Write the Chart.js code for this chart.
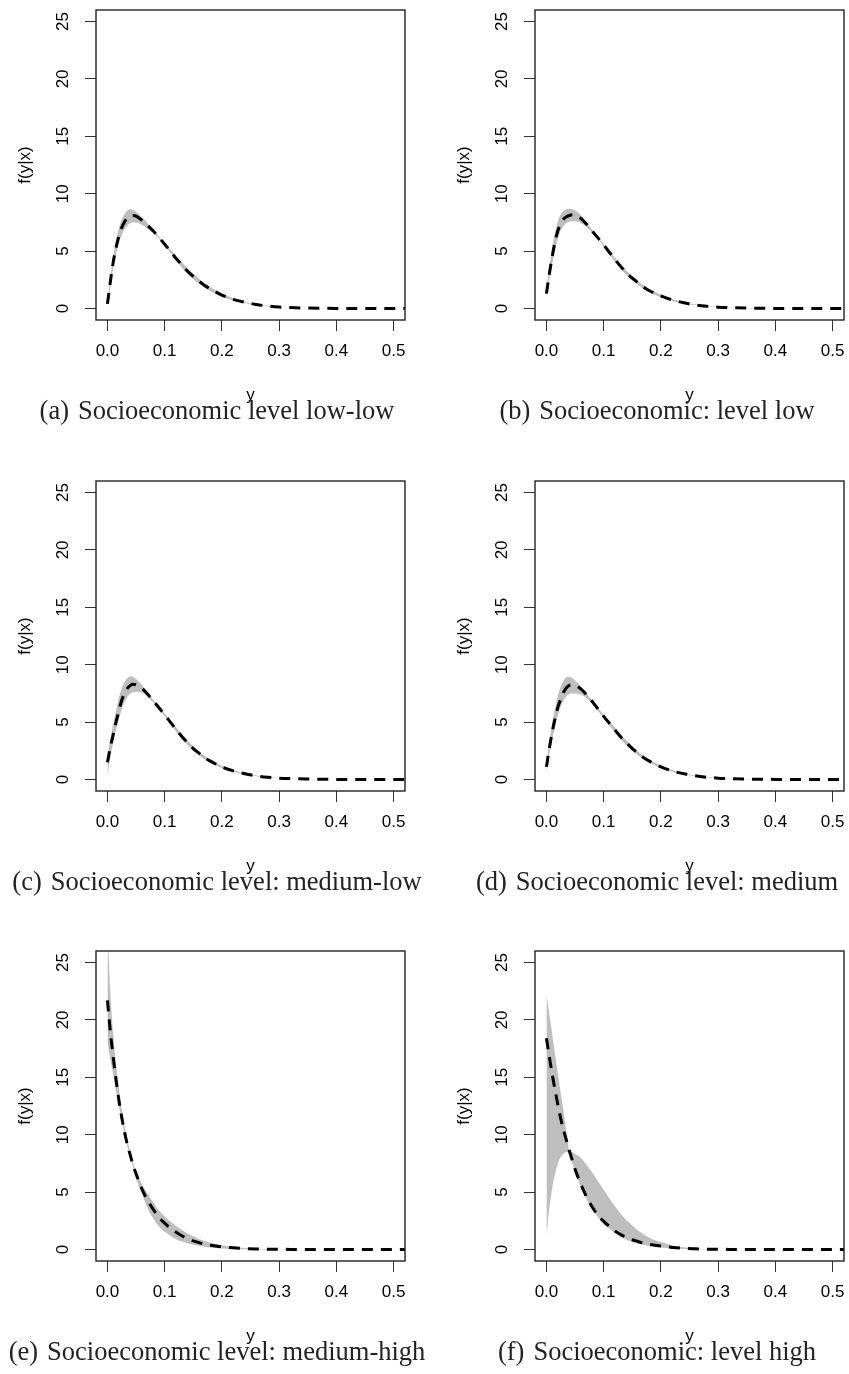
<!DOCTYPE html>
<html>
<head>
<meta charset="utf-8">
<script src="https://cdn.jsdelivr.net/npm/chart.js@4.4.1/dist/chart.umd.min.js"></script>
<style>
  body { margin: 0; background: #fff; }
  #pagina { position: relative; width: 849px; height: 1374px; overflow: hidden; background: #fff; }
  canvas { position: absolute; }
  .cap { position: absolute; width: 440px; text-align: center; font-family: "Liberation Serif", "Times New Roman", serif;
         font-size: 26.5px; line-height: 28px; color: #222; white-space: nowrap; }
  .cap span { margin-right: 9px; }
</style>
</head>
<body>
<div id="pagina">
  <canvas id="ga" width="410" height="410" style="left:0px;top:0px"></canvas>
  <canvas id="gb" width="410" height="410" style="left:439px;top:0px"></canvas>
  <canvas id="gc" width="410" height="410" style="left:0px;top:471px"></canvas>
  <canvas id="gd" width="410" height="410" style="left:439px;top:471px"></canvas>
  <canvas id="ge" width="410" height="410" style="left:0px;top:941px"></canvas>
  <canvas id="gf" width="410" height="410" style="left:439px;top:941px"></canvas>

  <div class="cap" style="left:-3px;top:396px"><span>(a)</span>Socioeconomic level low-low</div>
  <div class="cap" style="left:437px;top:396px"><span>(b)</span>Socioeconomic: level low</div>
  <div class="cap" style="left:-3px;top:867px"><span>(c)</span>Socioeconomic level: medium-low</div>
  <div class="cap" style="left:437px;top:867px"><span>(d)</span>Socioeconomic level: medium</div>
  <div class="cap" style="left:-3px;top:1337px"><span>(e)</span>Socioeconomic level: medium-high</div>
  <div class="cap" style="left:437px;top:1337px"><span>(f)</span>Socioeconomic: level high</div>
</div>
<script>
// Puntos en el eje horizontal (y)
const xs = [0, 0.005, 0.01, 0.015, 0.02, 0.025, 0.03, 0.035, 0.04, 0.045, 0.05, 0.06, 0.07, 0.08, 0.09, 0.1,
            0.11, 0.12, 0.13, 0.14, 0.15, 0.16, 0.17, 0.18, 0.2, 0.22, 0.24, 0.26, 0.28, 0.3, 0.32, 0.35, 0.4, 0.45, 0.5, 0.52];

// Marcas de los ejes
const xTicks = [0, 0.1, 0.2, 0.3, 0.4, 0.5];
const xTickLabels = ["0.0", "0.1", "0.2", "0.3", "0.4", "0.5"];
const yTicks = [0, 5, 10, 15, 20, 25];
const yTickLabels = ["0", "5", "10", "15", "20", "25"];

// (a) low-low
const meanA = [0.4, 2.3, 4.0, 5.3, 6.3, 7.05, 7.55, 7.9, 8.05, 8.1, 8.05, 7.7, 7.25, 6.75, 6.2, 5.6, 5.0, 4.35, 3.8, 3.25, 2.8, 2.4, 2.0, 1.7, 1.17, 0.8, 0.55, 0.35, 0.22, 0.13, 0.08, 0.04, 0.01, 0, 0, 0];
const upA   = [0.7, 2.7, 4.5, 5.9, 7.0, 7.75, 8.25, 8.55, 8.65, 8.6, 8.45, 8.0, 7.45, 6.85, 6.25, 5.7, 5.15, 4.6, 4.05, 3.5, 3.05, 2.6, 2.2, 1.85, 1.3, 0.9, 0.6, 0.38, 0.24, 0.14, 0.08, 0.04, 0.01, 0, 0, 0];
const loA   = [0.1, 1.9, 3.5, 4.7, 5.7, 6.4, 6.9, 7.25, 7.45, 7.5, 7.5, 7.3, 6.95, 6.55, 6.1, 5.5, 4.85, 4.15, 3.55, 3.0, 2.55, 2.15, 1.8, 1.5, 1.02, 0.7, 0.48, 0.3, 0.18, 0.11, 0.07, 0.03, 0.01, 0, 0, 0];

// (b) low
const meanB = [1.3, 3.0, 4.5, 5.8, 6.8, 7.4, 7.8, 8.0, 8.1, 8.17, 8.15, 7.85, 7.35, 6.75, 6.15, 5.55, 4.9, 4.25, 3.65, 3.1, 2.65, 2.25, 1.85, 1.55, 1.1, 0.75, 0.5, 0.32, 0.2, 0.12, 0.08, 0.04, 0.01, 0, 0, 0];
const upB   = [1.6, 3.6, 5.3, 6.6, 7.6, 8.2, 8.5, 8.65, 8.7, 8.65, 8.55, 8.15, 7.5, 6.85, 6.2, 5.6, 5.0, 4.4, 3.85, 3.3, 2.85, 2.4, 2.0, 1.7, 1.2, 0.82, 0.55, 0.35, 0.22, 0.13, 0.08, 0.04, 0.01, 0, 0, 0];
const loB   = [0.9, 2.5, 3.9, 5.1, 6.1, 6.8, 7.2, 7.45, 7.55, 7.6, 7.6, 7.45, 7.1, 6.6, 6.05, 5.4, 4.7, 4.05, 3.45, 2.9, 2.45, 2.05, 1.7, 1.4, 0.98, 0.66, 0.44, 0.28, 0.17, 0.1, 0.06, 0.03, 0.01, 0, 0, 0];

// (c) medium-low
const meanC = [1.5, 2.8, 3.9, 5.0, 6.0, 6.9, 7.5, 7.95, 8.2, 8.3, 8.25, 7.95, 7.45, 6.85, 6.25, 5.65, 5.0, 4.35, 3.75, 3.2, 2.7, 2.3, 1.9, 1.6, 1.1, 0.75, 0.5, 0.32, 0.2, 0.12, 0.08, 0.04, 0.01, 0, 0, 0];
const upC   = [2.0, 3.5, 4.8, 6.0, 7.1, 7.95, 8.5, 8.85, 9.0, 8.95, 8.75, 8.25, 7.6, 6.95, 6.3, 5.75, 5.15, 4.55, 3.95, 3.4, 2.9, 2.45, 2.05, 1.72, 1.2, 0.82, 0.55, 0.35, 0.22, 0.13, 0.08, 0.04, 0.01, 0, 0, 0];
const loC   = [0.3, 1.9, 3.2, 4.3, 5.3, 6.1, 6.75, 7.2, 7.5, 7.6, 7.65, 7.55, 7.2, 6.7, 6.15, 5.5, 4.85, 4.15, 3.55, 3.0, 2.5, 2.1, 1.75, 1.45, 1.0, 0.68, 0.45, 0.28, 0.17, 0.1, 0.06, 0.03, 0.01, 0, 0, 0];

// (d) medium
const meanD = [1.1, 2.7, 4.1, 5.3, 6.3, 7.0, 7.6, 8.0, 8.2, 8.25, 8.2, 7.9, 7.4, 6.8, 6.15, 5.5, 4.9, 4.3, 3.7, 3.2, 2.7, 2.3, 1.9, 1.6, 1.1, 0.75, 0.5, 0.32, 0.2, 0.12, 0.08, 0.04, 0.01, 0, 0, 0];
const upD   = [1.5, 3.3, 4.9, 6.2, 7.3, 8.1, 8.6, 8.9, 8.95, 8.85, 8.65, 8.15, 7.5, 6.9, 6.25, 5.65, 5.05, 4.5, 3.9, 3.4, 2.9, 2.45, 2.05, 1.72, 1.2, 0.82, 0.55, 0.35, 0.22, 0.13, 0.08, 0.04, 0.01, 0, 0, 0];
const loD   = [0.5, 2.2, 3.5, 4.6, 5.6, 6.35, 6.9, 7.25, 7.45, 7.5, 7.5, 7.4, 7.1, 6.6, 6.0, 5.35, 4.7, 4.1, 3.5, 2.95, 2.5, 2.1, 1.75, 1.45, 1.0, 0.68, 0.45, 0.28, 0.17, 0.1, 0.06, 0.03, 0.01, 0, 0, 0];

// (e) medium-high
const meanE = [21.7, 19.0, 16.8, 14.8, 13.0, 11.5, 10.2, 9.1, 8.2, 7.3, 6.6, 5.3, 4.3, 3.5, 2.8, 2.3, 1.85, 1.5, 1.2, 0.95, 0.75, 0.6, 0.48, 0.38, 0.24, 0.15, 0.09, 0.05, 0.03, 0.02, 0.01, 0, 0, 0, 0, 0];
const upE   = [28.0, 22.5, 18.8, 16.2, 14.0, 12.2, 10.7, 9.5, 8.5, 7.5, 6.85, 5.7, 4.9, 4.1, 3.4, 2.9, 2.45, 2.05, 1.7, 1.4, 1.15, 0.92, 0.75, 0.6, 0.38, 0.22, 0.13, 0.07, 0.04, 0.02, 0.01, 0, 0, 0, 0, 0];
const loE   = [18.0, 16.6, 15.2, 13.8, 12.5, 11.2, 10.0, 8.9, 7.9, 7.15, 6.2, 4.9, 3.6, 2.7, 2.0, 1.55, 1.2, 0.9, 0.7, 0.55, 0.42, 0.32, 0.25, 0.18, 0.09, 0.05, 0.03, 0.01, 0, 0, 0, 0, 0, 0, 0, 0];

// (f) high
const meanF = [18.4, 16.8, 15.3, 13.9, 12.6, 11.4, 10.4, 9.5, 8.6, 7.8, 7.0, 5.7, 4.6, 3.7, 3.0, 2.45, 2.0, 1.6, 1.3, 1.05, 0.85, 0.7, 0.55, 0.45, 0.3, 0.18, 0.1, 0.06, 0.03, 0.02, 0.01, 0, 0, 0, 0, 0];
const upF   = [22.3, 20.5, 18.8, 17.0, 15.3, 13.6, 12.0, 10.2, 8.65, 8.5, 8.35, 8.0, 7.4, 6.7, 5.95, 5.2, 4.45, 3.75, 3.1, 2.55, 2.1, 1.65, 1.3, 1.0, 0.65, 0.38, 0.2, 0.08, 0.03, 0.01, 0, 0, 0, 0, 0, 0];
const loF   = [1.2, 3.6, 5.3, 6.6, 7.5, 8.05, 8.35, 8.5, 8.4, 7.6, 6.8, 5.5, 4.4, 3.5, 2.8, 2.25, 1.8, 1.4, 1.1, 0.85, 0.65, 0.5, 0.4, 0.3, 0.18, 0.1, 0.05, 0.03, 0.01, 0, 0, 0, 0, 0, 0, 0];

const paneles = [
  { id: "ga", mean: meanA, up: upA, lo: loA },
  { id: "gb", mean: meanB, up: upB, lo: loB },
  { id: "gc", mean: meanC, up: upC, lo: loC },
  { id: "gd", mean: meanD, up: upD, lo: loD },
  { id: "ge", mean: meanE, up: upE, lo: loE },
  { id: "gf", mean: meanF, up: upF, lo: loF },
];

const fuente = { family: "'Liberation Sans', Arial, Helvetica, sans-serif", size: 17 };

// caja alrededor del area de la grafica, como box() en R
const cajaR = {
  id: "cajaR",
  afterDatasetsDraw(chart) {
    const { ctx, chartArea: a } = chart;
    ctx.save();
    ctx.strokeStyle = "#222";
    ctx.lineWidth = 1.4;
    ctx.strokeRect(a.left, a.top, a.right - a.left, a.bottom - a.top);
    ctx.restore();
  }
};

const puntos = arr => xs.map((x, i) => ({ x: x, y: arr[i] }));

// sin margenes extra para las etiquetas: el area queda fija
const sinMargen = s => { s.paddingTop = 0; s.paddingBottom = 0; s.paddingLeft = 0; s.paddingRight = 0; };

paneles.forEach(p => {
  new Chart(document.getElementById(p.id), {
    type: "line",
    data: {
      datasets: [
        { // media (linea discontinua)
          data: puntos(p.mean),
          borderColor: "#000",
          borderWidth: 3,
          borderDash: [11, 8],
          pointRadius: 0,
          fill: false,
          cubicInterpolationMode: "monotone",
        },
        { // limite superior de la banda
          data: puntos(p.up),
          borderColor: "rgba(0,0,0,0)",
          borderWidth: 0,
          backgroundColor: "#bebebe",
          pointRadius: 0,
          fill: "+1",
          cubicInterpolationMode: "monotone",
        },
        { // limite inferior de la banda
          data: puntos(p.lo),
          borderColor: "rgba(0,0,0,0)",
          borderWidth: 0,
          pointRadius: 0,
          fill: false,
          cubicInterpolationMode: "monotone",
        },
      ]
    },
    options: {
      responsive: false,
      animation: false,
      events: [],
      layout: { padding: { top: 10, right: 5, left: 0, bottom: 0 } },
      plugins: { legend: { display: false }, tooltip: { enabled: false } },
      scales: {
        x: {
          type: "linear",
          min: -0.02,
          max: 0.52,
          afterBuildTicks: s => { s.ticks = xTicks.map(v => ({ value: v })); },
          afterFit: s => { s.height = 90; sinMargen(s); },
          border: { display: false },
          grid: { drawOnChartArea: false, drawTicks: true, tickLength: 11, color: "#333", lineWidth: 1 },
          ticks: { autoSkip: false, maxRotation: 0, padding: 10, color: "#000", font: fuente,
                   callback: (v, i) => xTickLabels[i] },
          title: { display: true, text: "y", color: "#000", font: fuente, padding: { top: 0, bottom: 4 } },
        },
        y: {
          type: "linear",
          min: -1,
          max: 26,
          afterBuildTicks: s => { s.ticks = yTicks.map(v => ({ value: v })); },
          afterFit: s => { s.width = 96; sinMargen(s); },
          border: { display: false },
          grid: { drawOnChartArea: false, drawTicks: true, tickLength: 11, color: "#333", lineWidth: 1 },
          ticks: { autoSkip: false, minRotation: 90, maxRotation: 90, crossAlign: "center", padding: 12,
                   color: "#000", font: fuente, callback: (v, i) => yTickLabels[i] },
          title: { display: true, text: "f(y|x)", color: "#000", font: fuente, padding: { top: 15, bottom: 0 } },
        },
      },
    },
    plugins: [cajaR],
  });
});
</script>
</body>
</html>
